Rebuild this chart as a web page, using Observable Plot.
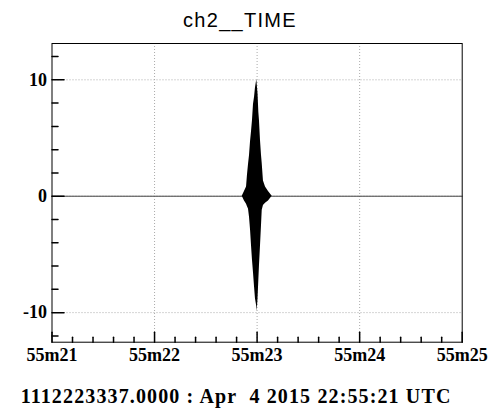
<!DOCTYPE html>
<html>
<head>
<meta charset="utf-8">
<script src="https://cdn.jsdelivr.net/npm/d3@7"></script>
<script src="https://cdn.jsdelivr.net/npm/@observablehq/plot@0.6"></script>
<style>
  html, body { margin: 0; padding: 0; background: #fff; }
  #wrap { width: 493px; height: 410px; position: relative; overflow: hidden; }
  #title { height: 30px; position: relative; }
  #title span { position: absolute; left: 183px; top: 9.8px; line-height: 20px; font-family: "Liberation Sans", Arial, sans-serif; font-size: 20px; letter-spacing: 1.3px; color: #000; white-space: nowrap; }
  #chart { height: 340px; }
  #chart svg { display: block; }
  #caption { height: 40px; position: relative; }
  #caption span { position: absolute; left: 20.7px; top: 16px; line-height: 20px; font-family: "Liberation Serif", "Times New Roman", serif; font-weight: bold; font-size: 20px; letter-spacing: 1.13px; color: #000; white-space: nowrap; }
</style>
</head>
<body>
<div id="wrap">
  <div id="title"><span>ch2__TIME</span></div>
  <div id="chart"></div>
  <div id="caption"><span>1112223337.0000 : Apr&nbsp;&nbsp;4 2015 22:55:21 UTC</span></div>
</div>
<script>
// ---- data (seconds after 22:55:21 UTC) ----
const xTickValues = [0, 1, 2, 3, 4];
const xTickLabels = ["55m21", "55m22", "55m23", "55m24", "55m25"];
const xMinorTicks = [0.2, 0.4, 0.6, 0.8, 1.2, 1.4, 1.6, 1.8, 2.2, 2.4, 2.6, 2.8, 3.2, 3.4, 3.6, 3.8];
const yTickValues = [-10, 0, 10];
const yTickLabels = ["-10", "0", "10"];
const yMinorTicks = [-12, -8, -6, -4, -2, 2, 4, 6, 8, 12];
const xDomain = [0, 4];
const yDomain = [-12.54, 13.12];

// burst envelope (upper / lower extremes of the oscillating signal)
const burstTime  = [1.855, 1.877, 1.897, 1.906, 1.916, 1.926, 1.936, 1.945, 1.955, 1.965, 1.975, 1.984, 1.997, 2.001, 2.009, 2.017, 2.023, 2.033, 2.043, 2.050, 2.062, 2.082, 2.111, 2.147];
const burstUpper = [0, 0.4, 0.8, 1.8, 2.7, 3.5, 4.7, 5.5, 6.5, 7.9, 8.5, 9.3, 10.0, 9.6, 8.8, 7.2, 6.5, 4.8, 3.5, 2.8, 1.3, 0.8, 0.4, 0];
const burstLower = [0, -0.4, -0.7, -0.9, -1.1, -1.8, -2.9, -4.2, -5.5, -6.6, -7.8, -8.8, -9.5, -9.9, -8.8, -7.2, -6.0, -4.3, -2.5, -1.2, -0.8, -0.6, -0.4, 0];
// quiet signal level outside the burst
const quietTime  = [0, 4];
const quietValue = [0, 0];

const burst = burstTime.map((t, i) => ({t, hi: burstUpper[i], lo: burstLower[i]}));
const quiet = quietTime.map((t, i) => ({t, v: quietValue[i]}));

const tickShape = { draw(context, l) { context.moveTo(0, 0); context.lineTo(0, -l); } };
const font = "Liberation Serif, Times New Roman, serif";

const chart = Plot.plot({
  width: 493,
  height: 340,
  marginTop: 13,
  marginBottom: 28.3,
  marginLeft: 51.5,
  marginRight: 31.3,
  style: { background: "#fff", color: "#000", overflow: "visible" },
  x: { domain: xDomain, label: null },
  y: { domain: yDomain, label: null },
  marks: [
    Plot.gridX(xTickValues.slice(1, -1), { stroke: "#aaa", strokeOpacity: 1, strokeDasharray: "1,2" }),
    Plot.gridY(yTickValues, { stroke: "#aaa", strokeOpacity: 1, strokeDasharray: "1,2" }),
    Plot.line(quiet, { x: "t", y: "v", stroke: "#444", strokeWidth: 1 }),
    Plot.areaY(burst, { x: "t", y1: "lo", y2: "hi", fill: "#000" }),
    Plot.vector(xTickValues, { x: d => d, frameAnchor: "bottom", length: 10, anchor: "start", rotate: 0, shape: tickShape, stroke: "#000" }),
    Plot.vector(xMinorTicks, { x: d => d, frameAnchor: "bottom", length: 5, anchor: "start", rotate: 0, shape: tickShape, stroke: "#000" }),
    Plot.vector(yTickValues, { y: d => d, frameAnchor: "left", length: 12, anchor: "start", rotate: 90, shape: tickShape, stroke: "#000" }),
    Plot.vector(yMinorTicks, { y: d => d, frameAnchor: "left", length: 6, anchor: "start", rotate: 90, shape: tickShape, stroke: "#000" }),
    Plot.axisX(xTickValues, { tickSize: 0, tickPadding: 6, tickFormat: (d, i) => xTickLabels[i], fontFamily: font, fontWeight: "bold", fontSize: 18, label: null }),
    Plot.axisY(yTickValues, { tickSize: 0, tickPadding: 5, tickFormat: (d, i) => yTickLabels[i], fontFamily: font, fontWeight: "bold", fontSize: 18, label: null }),
    Plot.frame({ stroke: "#000" })
  ]
});
document.getElementById("chart").appendChild(chart);
</script>
</body>
</html>
